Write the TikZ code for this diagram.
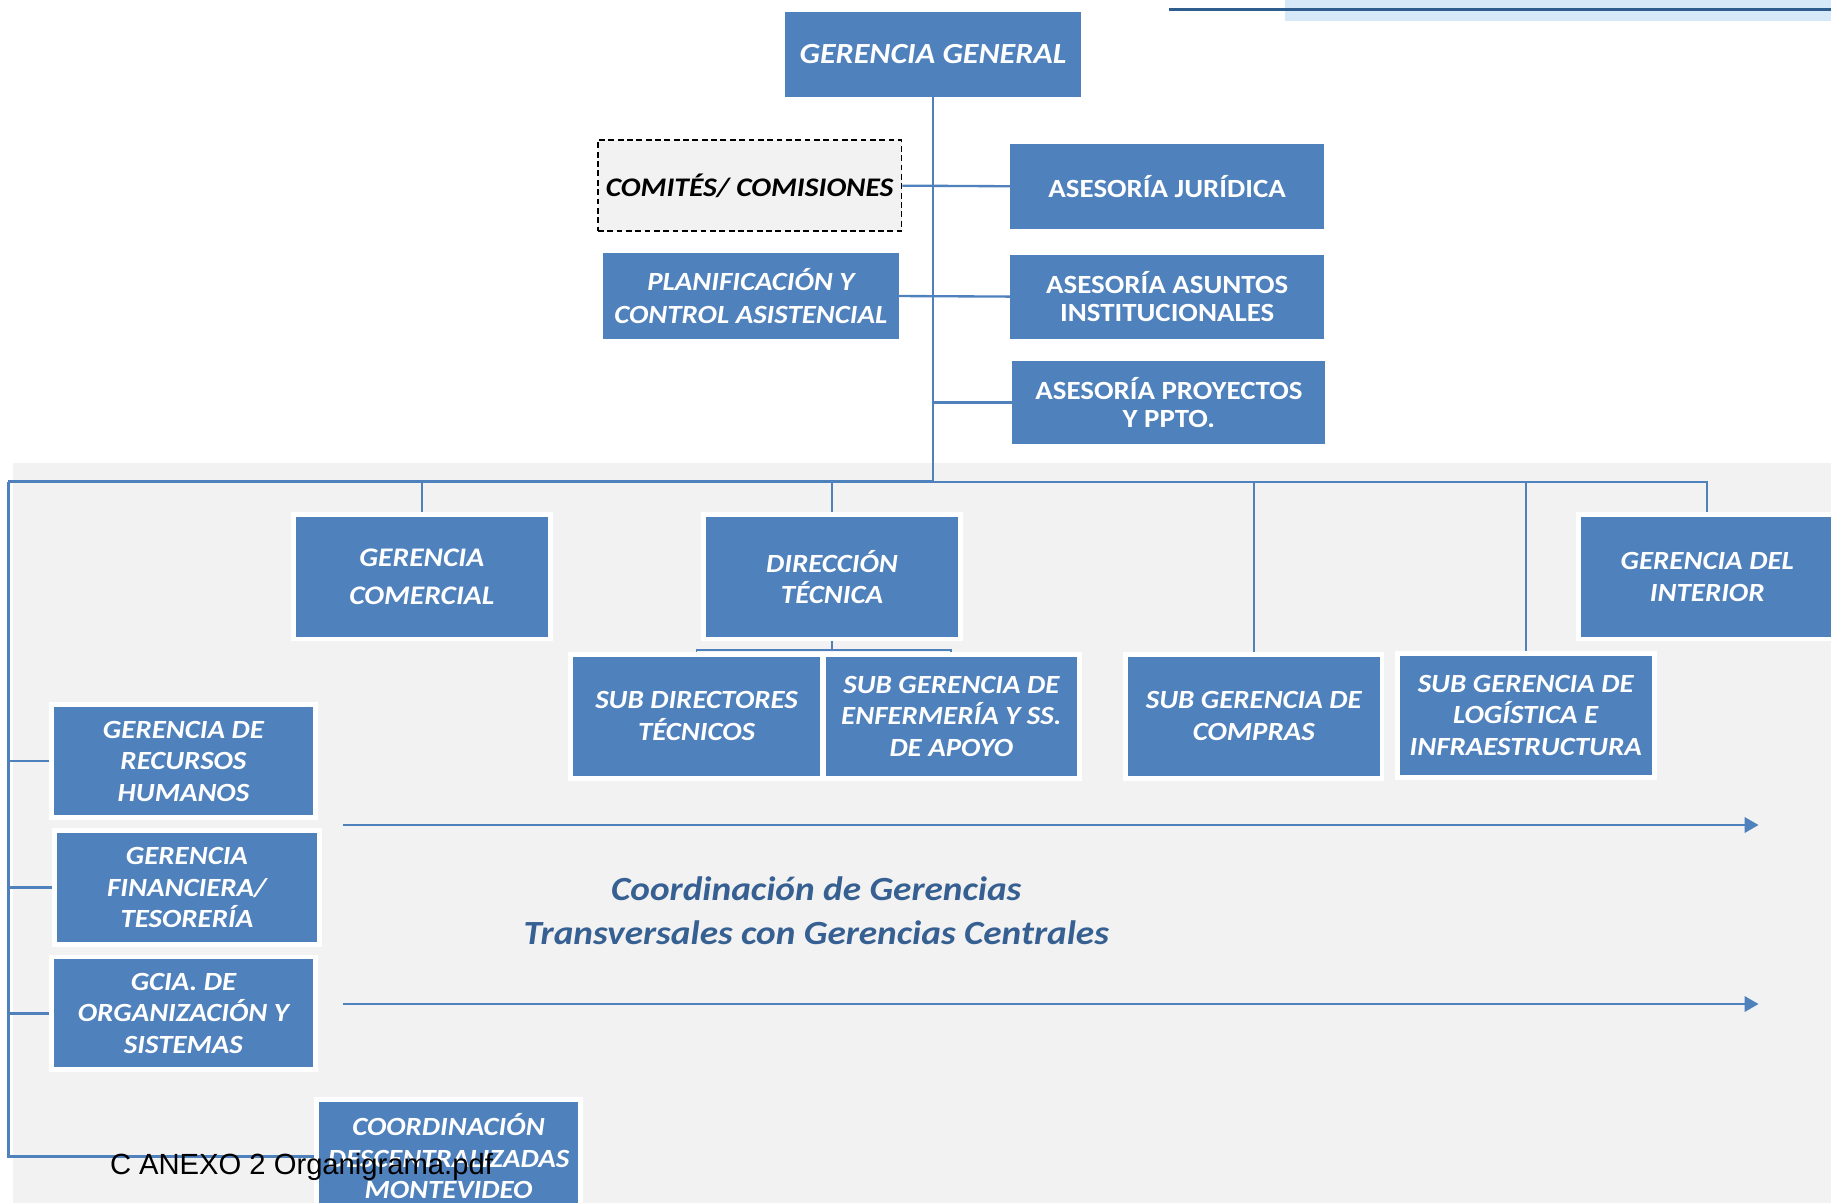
\documentclass[tikz,border=0pt]{standalone}
\usepackage{fontspec}
\setmainfont{Carlito}[FakeStretch=1.1]
\newfontfamily\arialfont{Liberation Sans}
\usetikzlibrary{arrows.meta}
\definecolor{bluebox}{HTML}{4F81BD}
\definecolor{graybg}{HTML}{F2F2F2}
\definecolor{darktext}{HTML}{376092}
\definecolor{lightband}{HTML}{D6E9F8}
\definecolor{topline}{HTML}{2F5D8E}
\begin{document}
\begin{tikzpicture}[x=1pt,y=-1pt,
  orgbox/.style={fill=bluebox, text=white, align=center, inner sep=0pt,
    font=\bfseries\itshape\fontsize{22.5}{27}\selectfont},
  uprbox/.style={orgbox, font=\bfseries\fontsize{22.5}{24.5}\selectfont},
  framed/.style={orgbox, draw=white, line width=4.2pt},
  link/.style={draw=bluebox, line width=2pt},
  flow/.style={draw=bluebox, line width=2.5pt, -{Triangle[length=12pt,width=13pt]}},
]
\useasboundingbox (0,0) rectangle (1568,1030);
\clip (0,0) rectangle (1568,1030);
\fill[white] (0,0) rectangle (1568,1030);
% top right band
\fill[lightband] (1100,0) rectangle (1568,17.7);
\draw[topline, line width=2pt] (1001,8) -- (1568,8);
% gray background
\fill[graybg] (10.8,396.2) rectangle (1568,1030);

% upper boxes
\node[orgbox, minimum width=254pt, minimum height=73pt,
  font=\bfseries\itshape\fontsize{25}{30}\selectfont] (gg) at (799,46.5) {GERENCIA GENERAL};
\node[draw=black, dash pattern=on 5pt off 3pt, line width=1.5pt, fill=graybg, text=black,
  inner sep=0pt, minimum width=260pt, minimum height=78pt,
  font=\bfseries\itshape\fontsize{23}{27}\selectfont] (com) at (642,159) {COMITÉS/ COMISIONES};
\node[uprbox, minimum width=269pt, minimum height=73pt] (aj) at (999.5,159.5) {ASESORÍA JURÍDICA};
\node[orgbox, minimum width=253pt, minimum height=73pt,
  font=\bfseries\itshape\fontsize{22.5}{28}\selectfont] (plan) at (643,253.5) {PLANIFICACIÓN Y\\CONTROL ASISTENCIAL};
\node[uprbox, minimum width=269pt, minimum height=72pt] (aai) at (999.5,254) {ASESORÍA ASUNTOS\\INSTITUCIONALES};
\node[uprbox, minimum width=268pt, minimum height=71.5pt] (app) at (1001,344.7) {ASESORÍA PROYECTOS\\Y PPTO.};

% hub coordinates
\coordinate (hub) at (799,412.5);
\coordinate (lt) at (7,412.5);

% second level boxes
\node[framed, minimum width=220pt, minimum height=106.5pt,
  font=\bfseries\itshape\fontsize{23}{32}\selectfont] (gc) at (361.2,494) {GERENCIA\\COMERCIAL};
\node[framed, minimum width=220pt, minimum height=106.5pt] (dt) at (712.5,494) {DIRECCIÓN\\TÉCNICA};
\node[framed, minimum width=220pt, minimum height=106.5pt,
  font=\bfseries\itshape\fontsize{22.5}{28}\selectfont] (gdi) at (1462,494) {GERENCIA DEL\\INTERIOR};
\node[framed, minimum width=216pt, minimum height=106.3pt] (sdt) at (596.5,613.3) {SUB DIRECTORES\\TÉCNICOS};
\node[framed, minimum width=219pt, minimum height=106.3pt] (sge) at (814.7,613.3) {SUB GERENCIA DE\\ENFERMERÍA Y SS.\\DE APOYO};
\node[framed, minimum width=219.5pt, minimum height=106.3pt] (sgc) at (1073.7,613.3) {SUB GERENCIA DE\\COMPRAS};
\node[framed, minimum width=219.8pt, minimum height=106.3pt] (sgl) at (1306.6,612.7) {SUB GERENCIA DE\\LOGÍSTICA E\\INFRAESTRUCTURA};

% left column boxes
\node[framed, minimum width=226.3pt, minimum height=96.6pt] (grh) at (157.1,651.9) {GERENCIA DE\\RECURSOS\\HUMANOS};
\node[framed, minimum width=226.6pt, minimum height=96.9pt] (gft) at (160.1,760) {GERENCIA\\FINANCIERA/\\TESORERÍA};
\node[framed, minimum width=226.3pt, minimum height=96.5pt] (gos) at (157.1,867.8) {GCIA. DE\\ORGANIZACIÓN Y\\SISTEMAS};
\node[framed, minimum width=226.2pt, minimum height=97pt] (cdm) at (384.1,990) {COORDINACIÓN\\DESCENTRALIZADAS\\MONTEVIDEO};

% connectors (upper)
\draw[link, line width=2.5pt] (gg.south) -- (hub);
\draw[link] (com.east) -- (aj.west);
\draw[link] (plan.east) -- (aai.west);
\draw[link] (hub |- app.west) -- (app.west);

% bus
\draw[link, line width=3pt] (hub) -- (lt);
\draw[link, line width=2.5pt] (lt) -- (lt |- cdm.west) -- (cdm.west);
\draw[link] (hub) -- (hub -| gdi.north) -- (gdi.north);
\draw[link] (gc.north |- hub) -- (gc.north);
\draw[link] (dt.north |- hub) -- (dt.north);
\draw[link] (sgc.north |- hub) -- (sgc.north);
\draw[link] (sgl.north |- hub) -- (sgl.north);
\draw[link] (lt |- grh.west) -- (grh.west);
\draw[link] (lt |- gft.west) -- (gft.west);
\draw[link] (lt |- gos.west) -- (gos.west);

% DT bracket
\path (dt.south) ++(0,7) coordinate (dtb);
\draw[link, line width=1.6pt] (dt.south) -- (dtb);
\draw[link, line width=1.6pt] (sdt.north) -- (sdt.north |- dtb) -- (sge.north |- dtb) -- (sge.north);

% flow arrows
\coordinate (ar1s) at (294,706.5);
\coordinate (ar1e) at (1506,706.5);
\coordinate (ar2s) at (294,859.8);
\coordinate (ar2e) at (1506,859.8);
\draw[flow] (ar1s) -- (ar1e);
\draw[flow] (ar2s) -- (ar2e);

\node[text=darktext, align=center, inner sep=0pt,
  font=\bfseries\itshape\fontsize{29}{38}\selectfont] (coord) at (699,780)
  {Coordinación de Gerencias\\Transversales con Gerencias Centrales};

% footer file name
\node[anchor=base west, inner sep=0pt, text=black,
  font=\arialfont\fontsize{25}{30}\selectfont] (fname) at (94,1006) {C ANEXO 2 Organigrama.pdf};
\end{tikzpicture}
\end{document}
